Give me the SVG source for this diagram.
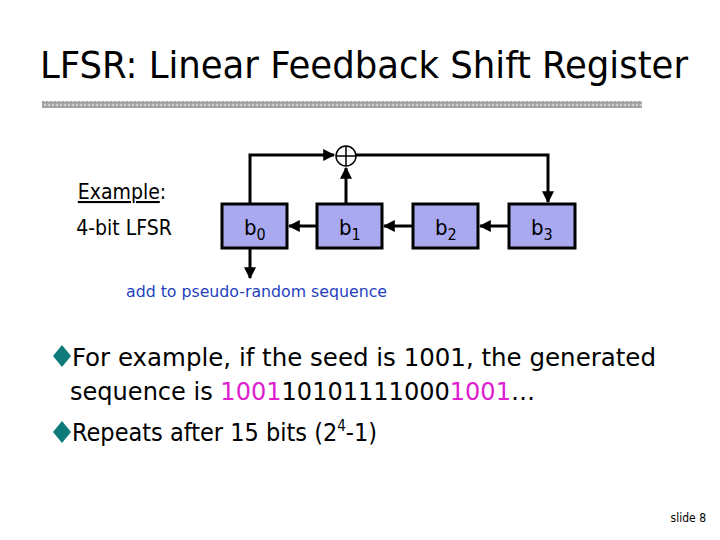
<svg xmlns="http://www.w3.org/2000/svg" width="720" height="540" viewBox="0 0 720 540">
<style>
text{font-family:"DejaVu Sans Condensed","DejaVu Sans",sans-serif;}
.box{fill:#a9a9f0;stroke:#000;stroke-width:3}
.ln{fill:none;stroke:#000;stroke-width:3}
.bl{font-size:22px;fill:#000}
.sub{font-size:16px}
.bul{font-size:25px}
</style>
<defs>
<marker id="ah" viewBox="0 0 10 10" refX="9" refY="5" markerWidth="4" markerHeight="4" orient="auto" markerUnits="strokeWidth"><path d="M0,0 L10,5 L0,10 z" fill="#000"/></marker>
<pattern id="gr" width="4" height="4" patternUnits="userSpaceOnUse"><rect width="4" height="4" fill="#a8a8a8"/><rect width="2" height="2" fill="#cfcfcf"/><rect x="2" y="2" width="1" height="1" fill="#888"/></pattern>
</defs>
<rect width="720" height="540" fill="#fff"/>
<text x="364" y="78" text-anchor="middle" font-size="38" textLength="648" lengthAdjust="spacingAndGlyphs" fill="#000">LFSR: Linear Feedback Shift Register</text>
<rect x="42" y="101" width="600" height="7" fill="url(#gr)"/>
<text x="122" y="199" text-anchor="middle" font-size="21"><tspan text-decoration="underline">Example</tspan>:</text>
<text x="124" y="235" text-anchor="middle" font-size="21">4-bit LFSR</text>
<g id="connectors">
<path class="ln" d="M250,204 V155 H334" marker-end="url(#ah)"/>
<path class="ln" d="M356,155 H548 V202" marker-end="url(#ah)"/>
<path class="ln" d="M346,204 V168" marker-end="url(#ah)"/>
<path class="ln" d="M317,226 H289" marker-end="url(#ah)"/>
<path class="ln" d="M413,226 H384" marker-end="url(#ah)"/>
<path class="ln" d="M509,226 H480" marker-end="url(#ah)"/>
<path class="ln" d="M250,248 V278" marker-end="url(#ah)"/>
</g>
<g id="xor"><circle cx="346" cy="156" r="10" fill="#fff" stroke="#000" stroke-width="1.5"/><path d="M336,156 H356 M346,146 V166" stroke="#000" stroke-width="1.5"/></g>
<g id="b0"><rect class="box" x="222" y="204" width="65" height="44"/><text class="bl" x="244" y="235">b<tspan class="sub" dy="5">0</tspan></text></g>
<g id="b1"><rect class="box" x="317" y="204" width="65" height="44"/><text class="bl" x="339" y="235">b<tspan class="sub" dy="5">1</tspan></text></g>
<g id="b2"><rect class="box" x="413" y="204" width="65" height="44"/><text class="bl" x="435" y="235">b<tspan class="sub" dy="5">2</tspan></text></g>
<g id="b3"><rect class="box" x="509" y="204" width="66" height="44"/><text class="bl" x="531" y="235">b<tspan class="sub" dy="5">3</tspan></text></g>
<text x="126" y="297" font-size="16" fill="#1f3fbf" textLength="261" lengthAdjust="spacingAndGlyphs">add to pseudo-random sequence</text>
<g fill="#0f7a7a"><path d="M53,356 L62,345 L71,356 L62,367 z"/><path d="M53,432 L62,421 L71,432 L62,443 z"/></g>
<g class="bul" fill="#000">
<text x="72" y="366" textLength="584" lengthAdjust="spacingAndGlyphs">For example, if the seed is 1001, the generated</text>
<text x="70" y="400" textLength="465" lengthAdjust="spacingAndGlyphs">sequence is <tspan fill="#e020d0">1001</tspan>10101111000<tspan fill="#e020d0">1001</tspan>…</text>
<text x="72" y="441">Repeats after 15 bits (2<tspan font-size="15" dy="-10">4</tspan><tspan dy="10">-1)</tspan></text>
</g>
<text x="706" y="522" text-anchor="end" font-size="12">slide 8</text>
</svg>
